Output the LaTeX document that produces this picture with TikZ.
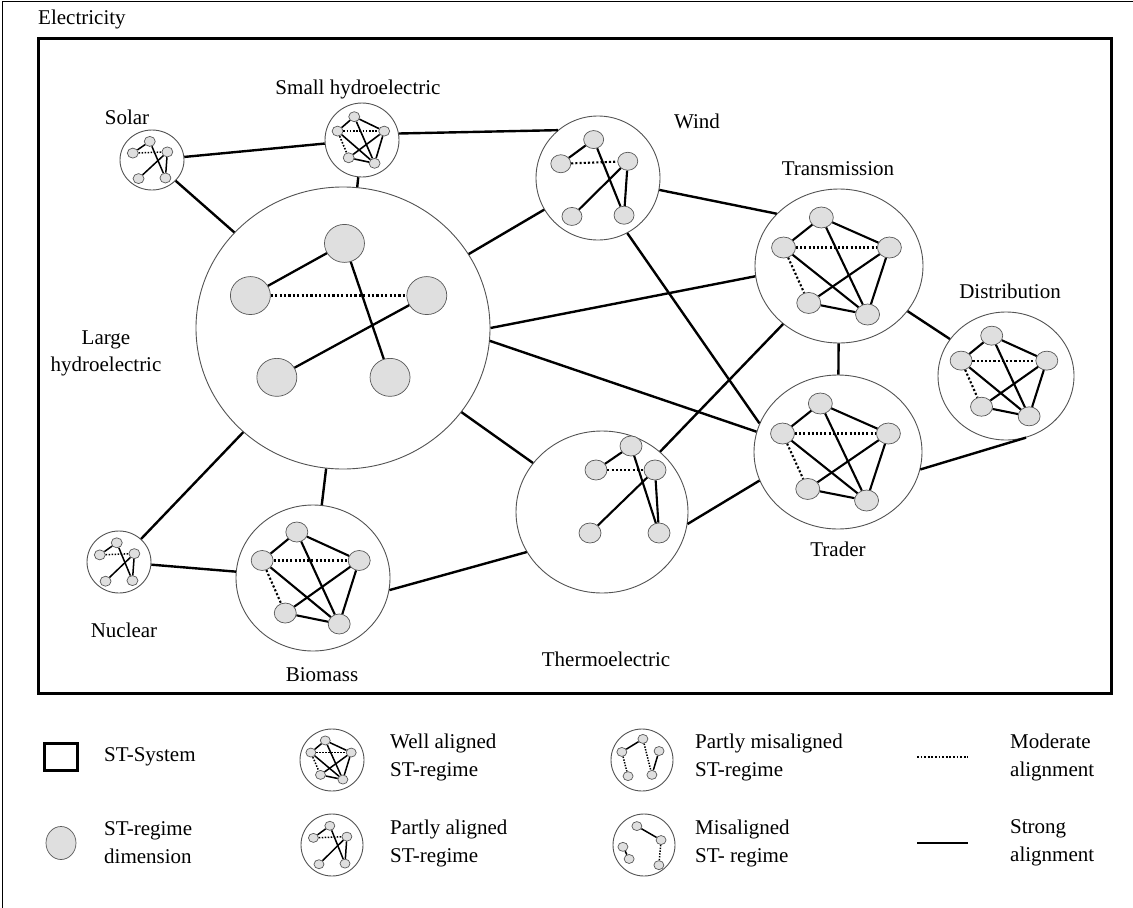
\documentclass[tikz,border=0pt]{standalone}
\usepackage{fontspec}
\setmainfont{Liberation Serif}
\usetikzlibrary{shapes.geometric}
\tikzset{
  regime/.style={ellipse, draw=gray!65!black, line width=0.9pt, fill=white, inner sep=0pt},
  dim/.style={ellipse, draw=gray!70!black, fill=gray!25, line width=0.7pt, inner sep=0pt},
  link/.style={line width=2.4pt, black},
  lbl/.style={font=\fontsize{21}{27}\selectfont, inner sep=0pt, align=center},
  leg/.style={font=\fontsize{21}{28}\selectfont, inner sep=0pt, align=left, anchor=west},
}
% name, cx, cy, rx, ry, node w, node h, line width
\newcommand\wellreg[8]{%
  \node[regime, minimum width=#4*2pt, minimum height=#5*2pt] (#1) at (#2,#3) {};
  \begin{scope}[shift={(#2,#3)}, xscale=#4, yscale=#5]
    \node[dim, minimum width=#6pt, minimum height=#7pt] (#1-t) at (-0.21,-0.63) {};
    \node[dim, minimum width=#6pt, minimum height=#7pt] (#1-l) at (-0.66,-0.24) {};
    \node[dim, minimum width=#6pt, minimum height=#7pt] (#1-r) at (0.60,-0.24) {};
    \node[dim, minimum width=#6pt, minimum height=#7pt] (#1-bl) at (-0.36,0.48) {};
    \node[dim, minimum width=#6pt, minimum height=#7pt] (#1-br) at (0.34,0.63) {};
  \end{scope}
  \begin{scope}[line width=#8pt]
    \draw (#1-t)--(#1-l); \draw (#1-t)--(#1-r); \draw (#1-t)--(#1-br);
    \draw (#1-l)--(#1-br); \draw (#1-r)--(#1-bl); \draw (#1-r)--(#1-br);
    \draw (#1-bl)--(#1-br);
    \draw[dash pattern=on #8pt off #8pt] (#1-l)--(#1-r);
    \draw[dash pattern=on #8pt off #8pt] (#1-l)--(#1-bl);
  \end{scope}
}
\newcommand\partreg[8]{%
  \node[regime, minimum width=#4*2pt, minimum height=#5*2pt] (#1) at (#2,#3) {};
  \begin{scope}[shift={(#2,#3)}, xscale=#4, yscale=#5]
    \node[dim, minimum width=#6pt, minimum height=#7pt] (#1-t) at (-0.07,-0.62) {};
    \node[dim, minimum width=#6pt, minimum height=#7pt] (#1-l) at (-0.60,-0.23) {};
    \node[dim, minimum width=#6pt, minimum height=#7pt] (#1-r) at (0.48,-0.27) {};
    \node[dim, minimum width=#6pt, minimum height=#7pt] (#1-bl) at (-0.42,0.62) {};
    \node[dim, minimum width=#6pt, minimum height=#7pt] (#1-br) at (0.42,0.60) {};
  \end{scope}
  \begin{scope}[line width=#8pt]
    \draw (#1-l)--(#1-t); \draw (#1-t)--(#1-br); \draw (#1-r)--(#1-br);
    \draw (#1-bl)--(#1-r);
    \draw[dash pattern=on #8pt off #8pt] (#1-l)--(#1-r);
  \end{scope}
}
\begin{document}
\begin{tikzpicture}[x=1pt,y=-1pt]
\useasboundingbox (0,0) rectangle (1133,908);
% outer frame
\draw[line width=1pt] (2,908) -- (2,1) -- (1133,1);
\node[lbl, anchor=west] (title) at (38,19) {Electricity};
% system box
\draw[line width=3pt] (38,38) rectangle (1111,693);

\wellreg{sh}{362}{140}{37}{37}{11}{10}{1.6}
\partreg{solar}{152}{160}{32}{30}{11}{10}{1.5}
\partreg{wind}{598}{178}{62}{62}{20}{18}{2.1}
\wellreg{trans}{839}{266}{84}{77}{24}{21}{2.1}
\wellreg{distr}{1006}{376}{68}{64}{22}{19}{2.1}
\wellreg{trader}{838}{452}{84}{77}{24}{21}{2.1}
\wellreg{bio}{313}{578}{77}{73}{22}{20}{2.1}
\partreg{nuc}{119}{562}{32}{31}{11}{10}{1.5}

% thermoelectric
\node[regime, minimum width=172pt, minimum height=162pt] (thermo) at (602,512) {};
\node[dim, minimum width=22pt, minimum height=20pt] (thermo-t) at (631,446) {};
\node[dim, minimum width=22pt, minimum height=20pt] (thermo-l) at (596,470) {};
\node[dim, minimum width=22pt, minimum height=20pt] (thermo-r) at (655,470) {};
\node[dim, minimum width=22pt, minimum height=20pt] (thermo-bl) at (590,533) {};
\node[dim, minimum width=22pt, minimum height=20pt] (thermo-br) at (659,533) {};
\begin{scope}[line width=2.1pt]
  \draw (thermo-l)--(thermo-t); \draw (thermo-t)--(thermo-br); \draw (thermo-r)--(thermo-br);
  \draw (thermo-bl)--(thermo-r);
  \draw[dash pattern=on 2.1pt off 2.1pt] (thermo-l)--(thermo-r);
\end{scope}

% large hydro
\node[regime, minimum width=294pt, minimum height=282pt] (hydro) at (343,328) {};
\begin{scope}[shift={(343,328)}, xscale=147, yscale=141]
  \node[dim, minimum width=40pt, minimum height=38pt] (hydro-t) at (0.01,-0.60) {};
  \node[dim, minimum width=40pt, minimum height=38pt] (hydro-l) at (-0.63,-0.23) {};
  \node[dim, minimum width=40pt, minimum height=38pt] (hydro-r) at (0.57,-0.23) {};
  \node[dim, minimum width=40pt, minimum height=38pt] (hydro-bl) at (-0.45,0.35) {};
  \node[dim, minimum width=40pt, minimum height=38pt] (hydro-br) at (0.32,0.35) {};
\end{scope}
\begin{scope}[line width=2.3pt]
  \draw (hydro-l)--(hydro-t); \draw (hydro-t)--(hydro-br); \draw (hydro-bl)--(hydro-r);
  \draw[dash pattern=on 2.2pt off 2.2pt] (hydro-l)--(hydro-r);
\end{scope}

% links between regimes
\draw[link] (solar) -- (sh);
\draw[link] (solar) -- (hydro);
\draw[link] (sh.10) -- (wind.130);
\draw[link] (sh) -- (hydro);
\draw[link] (wind) -- (hydro);
\draw[link] (wind.-11) -- (trans.140);
\draw[link] (wind.-62) -- (trader.160);
\draw[link] (hydro.0) -- (trans.187);
\draw[link] (hydro.-5) -- (trader.166);
\draw[link] (hydro) -- (thermo);
\draw[link] (hydro) -- (bio);
\draw[link] (hydro) -- (nuc);
\draw[link] (nuc) -- (bio);
\draw[link] (bio.-9) -- (thermo.208);
\draw[link] (thermo) -- (trans);
\draw[link] (thermo.-8) -- (trader.200);
\draw[link] (trans) -- (trader);
\draw[link] (trans) -- (distr);
\draw[link] (trader.-12) -- (distr.-72);

% labels
\node[lbl] (l-solar) at (127,117) {Solar};
\node[lbl] (l-sh) at (358,89) {Small hydroelectric};
\node[lbl] (l-wind) at (697,121) {Wind};
\node[lbl] (l-trans) at (838,169) {Transmission};
\node[lbl] (l-distr) at (1010,291) {Distribution};
\node[lbl] (l-hydro) at (106,353) {Large\\hydroelectric};
\node[lbl] (l-nuc) at (124,630) {Nuclear};
\node[lbl] (l-bio) at (322,675) {Biomass};
\node[lbl] (l-thermo) at (606,659) {Thermoelectric};
\node[lbl] (l-trader) at (838,549) {Trader};

% legend
\node[draw, line width=2.5pt, minimum width=33pt, minimum height=27pt, inner sep=0pt] (k-sys) at (61,757) {};
\node[leg] (t-sys) at (104,757) {ST-System};
\node[dim, minimum width=30pt, minimum height=33pt] (k-dim) at (61,843) {};
\node[leg] (t-dim) at (104,843) {ST-regime\\dimension};

\wellreg{kw}{332}{760}{32}{31}{10}{9}{1.5}
\node[leg] (t-kw) at (390,757) {Well aligned\\ST-regime};
\partreg{kp}{332}{845}{31}{31}{10}{9}{1.5}
\node[leg] (t-kp) at (390,843) {Partly aligned\\ST-regime};

% partly misaligned
\node[regime, minimum width=62pt, minimum height=62pt] (km) at (642,760) {};
\begin{scope}[shift={(642,760)}, xscale=31, yscale=31]
  \node[dim, minimum width=10pt, minimum height=9pt] (km-l) at (-0.65,-0.26) {};
  \node[dim, minimum width=10pt, minimum height=9pt] (km-t) at (0.03,-0.68) {};
  \node[dim, minimum width=10pt, minimum height=9pt] (km-r) at (0.55,-0.29) {};
  \node[dim, minimum width=10pt, minimum height=9pt] (km-bl) at (-0.45,0.52) {};
  \node[dim, minimum width=10pt, minimum height=9pt] (km-br) at (0.32,0.48) {};
\end{scope}
\begin{scope}[line width=1.5pt]
  \draw (km-l)--(km-t); \draw (km-r)--(km-br);
  \draw[dash pattern=on 1.4pt off 1.4pt] (km-l)--(km-bl);
  \draw[dash pattern=on 1.4pt off 1.4pt] (km-t)--(km-br);
\end{scope}
\node[leg] (t-km) at (695,757) {Partly misaligned\\ST-regime};

% misaligned
\node[regime, minimum width=62pt, minimum height=62pt] (kx) at (644,845) {};
\begin{scope}[shift={(644,845)}, xscale=31, yscale=31]
  \node[dim, minimum width=10pt, minimum height=9pt] (kx-a) at (-0.23,-0.61) {};
  \node[dim, minimum width=10pt, minimum height=9pt] (kx-b) at (0.55,-0.16) {};
  \node[dim, minimum width=10pt, minimum height=9pt] (kx-c) at (-0.68,0.06) {};
  \node[dim, minimum width=10pt, minimum height=9pt] (kx-d) at (-0.48,0.45) {};
  \node[dim, minimum width=10pt, minimum height=9pt] (kx-e) at (0.48,0.65) {};
\end{scope}
\begin{scope}[line width=1.5pt]
  \draw (kx-a)--(kx-b); \draw (kx-c)--(kx-d);
  \draw[dash pattern=on 1.4pt off 1.4pt] (kx-b)--(kx-e);
\end{scope}
\node[leg] (t-kx) at (695,843) {Misaligned\\ST- regime};

% alignment lines
\coordinate (mod-a) at (917,757); \coordinate (mod-b) at (968,757);
\draw[line width=1.8pt, dash pattern=on 1.8pt off 1.8pt] (mod-a) -- (mod-b);
\node[leg] (t-mod) at (1010,757) {Moderate\\alignment};
\coordinate (str-a) at (917,843); \coordinate (str-b) at (968,843);
\draw[line width=2.6pt] (str-a) -- (str-b);
\node[leg] (t-str) at (1010,843) {Strong\\alignment};
\end{tikzpicture}
\end{document}
